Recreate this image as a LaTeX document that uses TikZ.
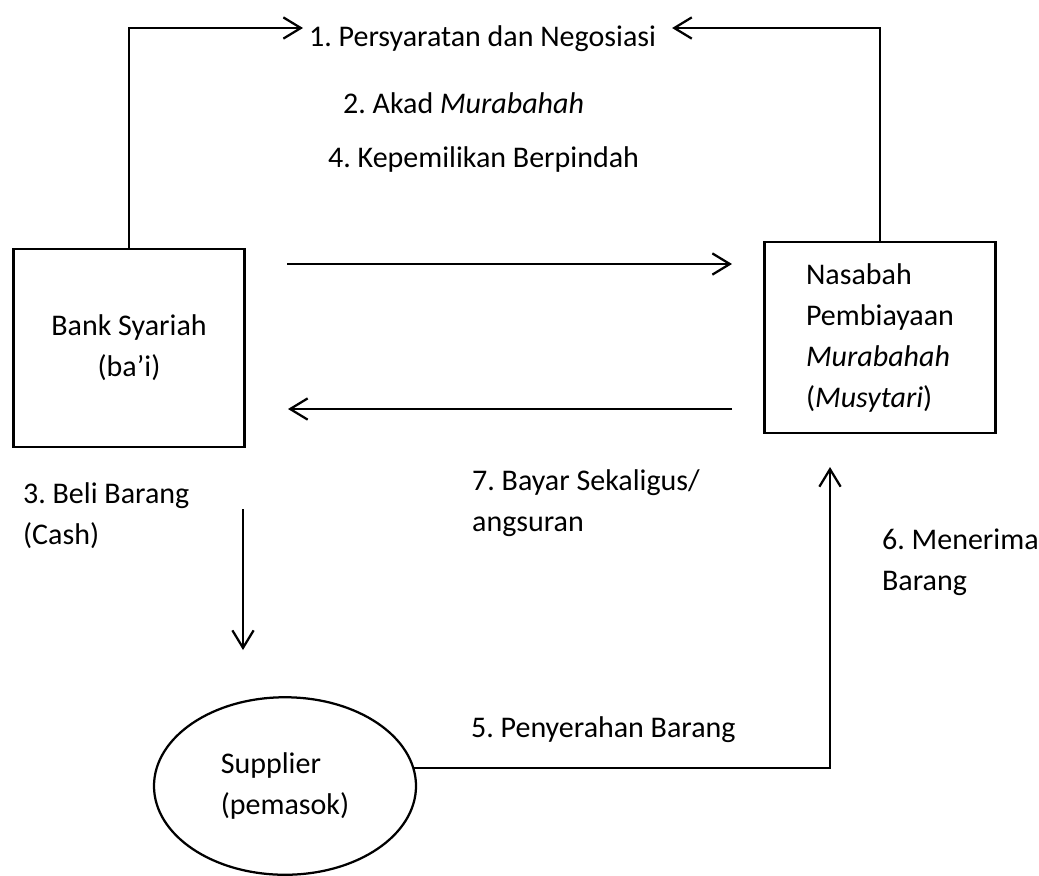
\documentclass[tikz,border=0pt]{standalone}
\usepackage{xcolor}
\usepackage{fontspec}
\setmainfont{Carlito}
\usetikzlibrary{arrows.meta, shapes.geometric}
\frenchspacing

\begin{document}
\begin{tikzpicture}[x=0.4pt, y=-0.4pt, line width=0.9pt,
        every node/.style={font=\fontsize{12}{16.4}\selectfont, inner sep=2pt},
        box/.style={draw, rectangle},
        >={Straight Barb[length=7pt, width=8.5pt]}]
    \useasboundingbox (0,0) rectangle (1039,875);

    	\node[box, minimum width=92.4pt, minimum height=79.2pt, align=center] (bank) at (129,348) {Bank Syariah\\(ba'i)};
    	\node[box, minimum width=92.4pt, minimum height=76.4pt, align=left] (nasabah) at (880,337.5) {Nasabah\\Pembiayaan\\\textit{Murabahah}\\(\textit{Musytari})};
    	\node[draw, ellipse, minimum width=104.8pt, minimum height=71pt, inner sep=0pt, align=left] (supplier) at (285,786) {Supplier\\(pemasok)};

    	\node[anchor=west] (negos) at (303,39) {1. Persyaratan dan Negosiasi};
    	\node[anchor=west] (akad) at (337,103) {2. Akad \textit{Murabahah}};
    	\node[anchor=west] (milik) at (322,159) {4. Kepemilikan Berpindah};
    	\node[anchor=west, align=left] (bayar) at (466,503) {7. Bayar Sekaligus/\\angsuran};
    	\node[anchor=west, align=left] (beli) at (17,516) {3. Beli Barang\\(Cash)};
    	\node[anchor=west, align=left] (terima) at (876,562) {6. Menerima\\Barang};
    	\node[anchor=west] (serah) at (465,730) {5. Penyerahan Barang};

    %	free ends of the straight arrows
    	\coordinate (jual1) at (287,264);
    	\coordinate (jual2) at (732,264);
    	\coordinate (bayar1) at (732,409);
    	\coordinate (bayar2) at (288,409);
    	\coordinate (beli1) at (243,509);
    	\coordinate (beli2) at (243,650);
    	\coordinate (terima1) at (830,467);

    	\draw[->] (bank.north) |- ([yshift=4.4pt]negos.west);
    	\draw[->] (nasabah.north) |- ([xshift=4pt, yshift=4.4pt]negos.east);
    	\path[->]
      (jual1) edge (jual2)
      (bayar1) edge (bayar2)
      (beli1) edge (beli2);
    	\draw[->] (supplier.8) -| (terima1);

\end{tikzpicture}
\end{document}
